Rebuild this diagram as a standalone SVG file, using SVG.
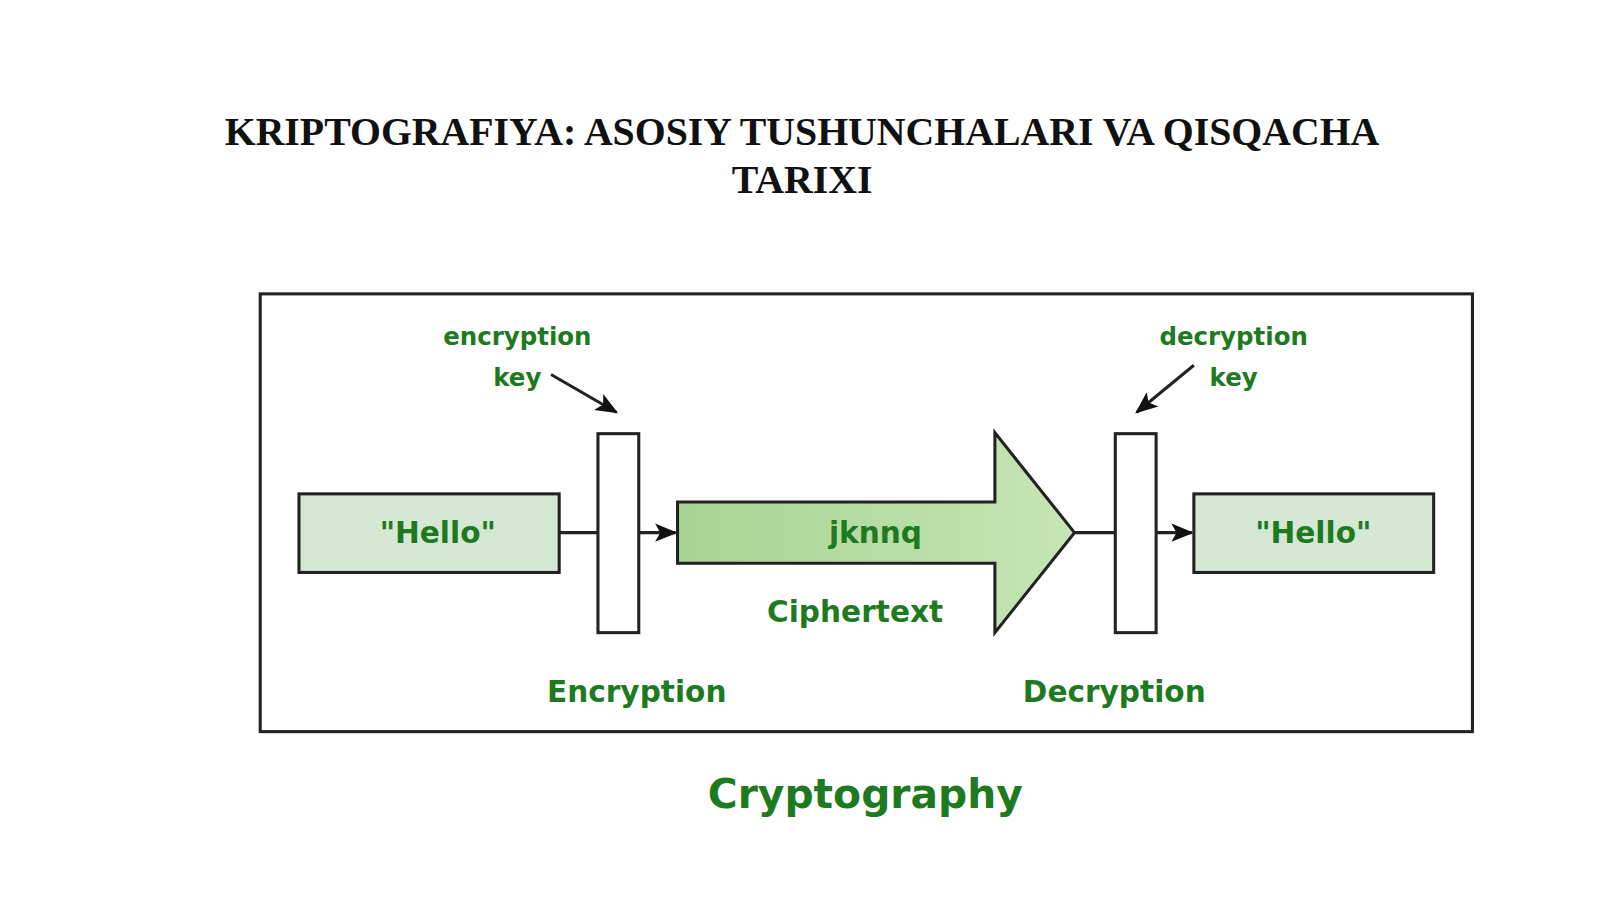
<svg xmlns="http://www.w3.org/2000/svg" width="1600" height="899" viewBox="0 0 1600 899">
<style>
.t{font-family:"Liberation Serif",serif;font-weight:bold;font-size:39px;fill:#111;text-anchor:middle}
.g{font-family:"DejaVu Sans","Liberation Sans",sans-serif;font-weight:bold;fill:#1e7a1e;text-anchor:middle}
.box{fill:#d5e8d4;stroke:#222;stroke-width:3}
.bar{fill:#fff;stroke:#222;stroke-width:3}
.ln{stroke:#222;stroke-width:3;fill:none}
</style>
<defs>
<marker id="ah2" markerWidth="22" markerHeight="22" refX="20" refY="11" orient="auto" markerUnits="userSpaceOnUse" viewBox="0 0 22 22"><path d="M0,2L22,11L0,20L5,11z" fill="#111"/></marker>
<linearGradient id="gr" x1="0" y1="0" x2="1" y2="0"><stop offset="0" stop-color="#a6d493"/><stop offset="1" stop-color="#c6e5b6"/></linearGradient>
</defs>
<rect width="1600" height="899" fill="#fff"/>
<g transform="scale(1.0204)">
<text class="t" x="786" y="142">KRIPTOGRAFIYA: ASOSIY TUSHUNCHALARI VA QISQACHA</text>
<text class="t" x="786" y="189">TARIXI</text>
<rect x="255" y="288" width="1188" height="429" fill="none" stroke="#222" stroke-width="3"/>
<g id="connectors">
<line class="ln" x1="548" y1="522" x2="586" y2="522"/>
<line class="ln" x1="626" y1="522" x2="662" y2="522" marker-end="url(#ah2)"/>
<line class="ln" x1="1053" y1="522" x2="1093" y2="522"/>
<line class="ln" x1="1133" y1="522" x2="1168" y2="522" marker-end="url(#ah2)"/>
<line class="ln" x1="540" y1="367" x2="604" y2="404" marker-end="url(#ah2)"/>
<line class="ln" x1="1170" y1="358" x2="1114" y2="404" marker-end="url(#ah2)"/>
</g>
<g id="plain1"><rect class="box" x="293" y="484" width="255" height="77"/><text class="g" x="429" y="532" font-size="29">"Hello"</text></g>
<g id="enc"><rect class="bar" x="586" y="425" width="40" height="195"/><text class="g" x="624" y="688" font-size="29">Encryption</text></g>
<g id="enckey"><text class="g" x="507" y="338" font-size="24">encryption</text><text class="g" x="507" y="378" font-size="24">key</text></g>
<g id="cipher"><polygon points="664,492 975,492 975,424 1053,522 975,620 975,552 664,552" fill="url(#gr)" stroke="#222" stroke-width="3"/><text class="g" x="858" y="532" font-size="29">jknnq</text><text class="g" x="838" y="610" font-size="29">Ciphertext</text></g>
<g id="dec"><rect class="bar" x="1093" y="425" width="40" height="195"/><text class="g" x="1092" y="688" font-size="29">Decryption</text></g>
<g id="deckey"><text class="g" x="1209" y="338" font-size="24">decryption</text><text class="g" x="1209" y="378" font-size="24">key</text></g>
<g id="plain2"><rect class="box" x="1170" y="484" width="235" height="77"/><text class="g" x="1287" y="532" font-size="29">"Hello"</text></g>
<text class="g" x="848" y="792" font-size="40">Cryptography</text>
</g>
</svg>
